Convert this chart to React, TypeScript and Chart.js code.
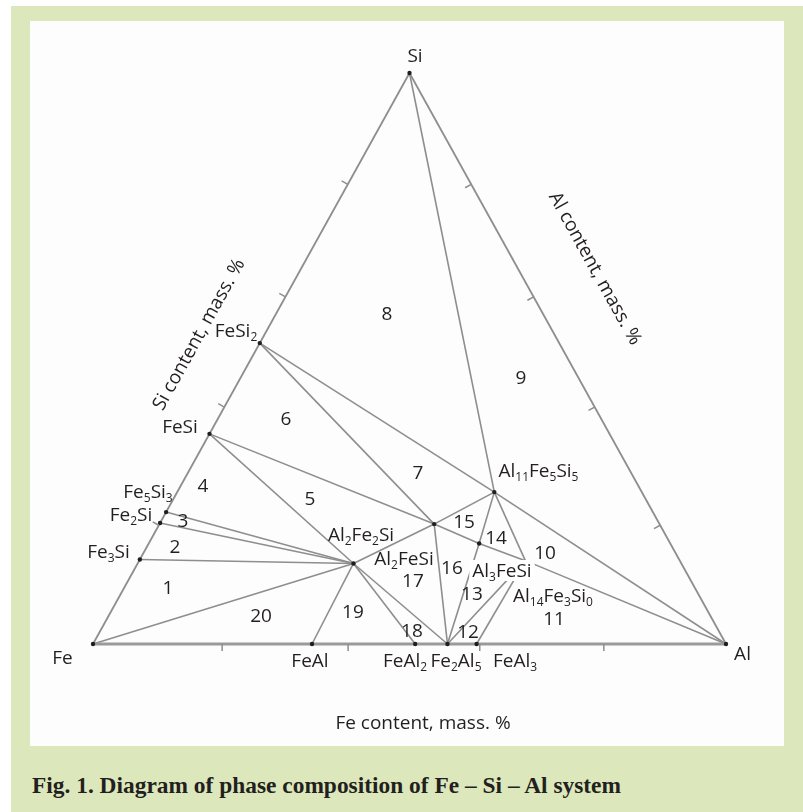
import React, { useEffect, useRef } from "react";
import { Chart, registerables } from "chart.js";
Chart.register(...registerables);

// ---------- Data: phase compositions in mass % (Fe = 100 - Si - Al) ----------
const phaseNames = [
  "Fe", "Al", "Si", "Fe3Si", "Fe2Si", "Fe5Si3", "FeSi", "FeSi2",
  "Al2Fe2Si", "Q", "D", "Al11Fe5Si5", "Al3FeSi", "FeAl", "FeAl2", "Fe2Al5", "FeAl3",
];
const phaseSi = [0, 0, 100, 14.8, 21.2, 23.1, 36.8, 52.7, 14.1, 21.0, 17.6, 26.6, 14.6, 0, 0, 0, 0];
const phaseAl = [0, 100, 0, 0, 0, 0, 0, 0, 34.1, 43.4, 52.2, 50.1, 61.0, 34.6, 50.9, 56.0, 60.6];

// Triangle edges and tie lines (by phase name)
const edgeLines = [["Fe", "Al"], ["Fe", "Si"], ["Si", "Al"]];
const tieLines = [
  ["Fe", "Al2Fe2Si"], ["Fe3Si", "Al2Fe2Si"], ["Fe2Si", "Al2Fe2Si"], ["Fe5Si3", "Al2Fe2Si"],
  ["FeSi", "Al2Fe2Si"], ["FeSi", "Q", "D", "Al3FeSi", "Al"], ["Al2Fe2Si", "Q", "Al11Fe5Si5"],
  ["FeSi2", "Q"], ["FeSi2", "Al11Fe5Si5"], ["Si", "Al11Fe5Si5"], ["Al11Fe5Si5", "Al"],
  ["Al11Fe5Si5", "D", "Fe2Al5"], ["Al11Fe5Si5", "Al3FeSi"], ["Q", "Fe2Al5"],
  ["Al3FeSi", "Fe2Al5"], ["Al3FeSi", "FeAl3"], ["Al2Fe2Si", "Fe2Al5"], ["Al2Fe2Si", "FeAl2"],
  ["Al2Fe2Si", "FeAl"],
];
const markedPhases = [
  "Fe", "Al", "Si", "Fe3Si", "Fe2Si", "Fe5Si3", "FeSi", "FeSi2", "Al2Fe2Si", "Q", "D",
  "Al11Fe5Si5", "FeAl", "FeAl2", "Fe2Al5", "FeAl3",
];

// Axis ticks (mass %)
const bottomTicks = [20.4, 40.3, 61.1, 80.7];
const sideTicks = [20.8, 41.5, 60.8, 80.5];

// Region numbers, anchored in triangle coordinates (x: Fe->Al, y: base->Si)
const regionLabels = ["1","2","3","4","5","6","7","8","9","10","11","12","13","14","15","16","17","18","19","20"];
const regionX = [0.1185,0.1295,0.1422,0.1738,0.3428,0.3049,0.5134,0.4645,0.6761,0.7141,0.7283,0.5924,0.5987,0.6367,0.5861,0.5671,0.5055,0.5039,0.4107,0.2654];
const regionY = [0.0998,0.1716,0.2172,0.2785,0.2557,0.3958,0.3012,0.5797,0.4676,0.1611,0.0455,0.0228,0.0893,0.1874,0.2154,0.1349,0.1121,0.0245,0.0578,0.0508];

// Phase labels ({..} = subscript)
const phaseLabelText = [
  "Fe{5}Si{3}", "Fe{2}Si", "Fe{3}Si", "FeSi", "FeSi{2}", "Al{2}Fe{2}Si", "Al{2}FeSi",
  "Al{11}Fe{5}Si{5}", "Al{3}FeSi", "Al{14}Fe{3}Si{0}", "FeAl", "FeAl{2}", "Fe{2}Al{5}", "FeAl{3}",
  "Fe", "Al", "Si",
];
const phaseLabelX = [0.0869,0.0600,0.0245,0.1374,0.2259,0.4234,0.4913,0.7038,0.6461,0.7267,0.3428,0.4929,0.5735,0.6667,-0.0482,1.0261,0.5087];
const phaseLabelY = [0.2680,0.2277,0.1629,0.3818,0.5499,0.1926,0.1506,0.3047,0.1296,0.0858,-0.0280,-0.0280,-0.0280,-0.0280,-0.0228,-0.0158,1.0315];
const boxedLabels = ["Al{3}FeSi"];

// Axis titles
const axisTitles = ["Si content, mass. %", "Al content, mass. %", "Fe content, mass. %"];
const axisTitleX = [0.1659, 0.7946, 0.5213];
const axisTitleY = [0.5429, 0.6585, -0.1366];

const caption = "Fig. 1. Diagram of phase composition of Fe \u2013 Si \u2013 Al system";

// ---------- helpers ----------
function toXY(si: number, al: number) {
  return { x: al / 100 + si / 200, y: si / 100 };
}
function phasePoint(name: string) {
  const i = phaseNames.indexOf(name);
  return toXY(phaseSi[i], phaseAl[i]);
}

const FONT = '"Open Sans", "DejaVu Sans", sans-serif';
const TEXT_COLOR = "#231f20";
const LINE_COLOR = "#8e8e8e";

function drawRich(ctx: CanvasRenderingContext2D, text: string, cx: number, cy: number, boxed: boolean) {
  const parts = text.split(/(\{[^}]*\})/).filter((p) => p.length > 0);
  const mainFont = `19px ${FONT}`;
  const subFont = `12px ${FONT}`;
  let total = 0;
  const widths: number[] = [];
  parts.forEach((p) => {
    const sub = p.startsWith("{");
    ctx.font = sub ? subFont : mainFont;
    const w = ctx.measureText(sub ? p.slice(1, -1) : p).width;
    widths.push(w);
    total += w;
  });
  let x = cx - total / 2;
  const base = cy + 6.8;
  if (boxed) {
    ctx.fillStyle = "#ffffff";
    ctx.fillRect(x - 3, cy - 10, total + 6, 21);
  }
  ctx.fillStyle = TEXT_COLOR;
  ctx.textAlign = "left";
  ctx.textBaseline = "alphabetic";
  parts.forEach((p, i) => {
    const sub = p.startsWith("{");
    ctx.font = sub ? subFont : mainFont;
    ctx.fillText(sub ? p.slice(1, -1) : p, x, sub ? base + 4 : base);
    x += widths[i];
  });
}

const annotationPlugin = {
  id: "ternaryAnnotations",
  afterDraw(chart: any) {
    const ctx: CanvasRenderingContext2D = chart.ctx;
    const sx = chart.scales.x;
    const sy = chart.scales.y;
    const px = (p: { x: number; y: number }) => ({ x: sx.getPixelForValue(p.x), y: sy.getPixelForValue(p.y) });
    const fe = px(phasePoint("Fe"));
    const al = px(phasePoint("Al"));
    const si = px(phasePoint("Si"));
    ctx.save();
    // ticks
    ctx.strokeStyle = LINE_COLOR;
    ctx.lineWidth = 1.5;
    const tick = (p: { x: number; y: number }, dx: number, dy: number) => {
      ctx.beginPath();
      ctx.moveTo(p.x, p.y);
      ctx.lineTo(p.x + dx * 7, p.y + dy * 7);
      ctx.stroke();
    };
    bottomTicks.forEach((v) => tick(px(toXY(0, v)), 0, 1));
    const lv = { x: si.x - fe.x, y: si.y - fe.y };
    const ll = Math.hypot(lv.x, lv.y);
    const rv = { x: al.x - si.x, y: al.y - si.y };
    const rl = Math.hypot(rv.x, rv.y);
    sideTicks.forEach((v) => {
      tick(px(toXY(v, 0)), lv.y / ll, -lv.x / ll);
      tick(px(toXY(v, 100 - v)), -rv.y / rl, rv.x / rl);
    });
    // region numbers
    regionLabels.forEach((t, i) => {
      const p = px({ x: regionX[i], y: regionY[i] });
      drawRich(ctx, t, p.x, p.y, false);
    });
    // phase labels
    phaseLabelText.forEach((t, i) => {
      const p = px({ x: phaseLabelX[i], y: phaseLabelY[i] });
      drawRich(ctx, t, p.x, p.y, boxedLabels.includes(t));
    });
    // axis titles
    const angles = [Math.atan2(lv.y, lv.x), Math.atan2(rv.y, rv.x), 0];
    axisTitles.forEach((t, i) => {
      const p = px({ x: axisTitleX[i], y: axisTitleY[i] });
      ctx.save();
      ctx.translate(p.x, p.y);
      ctx.rotate(angles[i]);
      ctx.font = `19px ${FONT}`;
      ctx.fillStyle = TEXT_COLOR;
      ctx.textAlign = "center";
      ctx.textBaseline = "alphabetic";
      ctx.fillText(t, 0, 6.8);
      ctx.restore();
    });
    ctx.restore();
  },
};

export default function App() {
  const canvasRef = useRef<HTMLCanvasElement>(null);
  const capRef = useRef<HTMLSpanElement>(null);

  useEffect(() => {
    const span = capRef.current;
    if (span) {
      span.style.transform = "none";
      const w = span.getBoundingClientRect().width;
      if (w > 0) span.style.transform = `scaleX(${589 / w})`;
    }
    if (!canvasRef.current) return;
    const datasets: any[] = [];
    datasets.push({
      data: markedPhases.map(phasePoint),
      showLine: false,
      pointRadius: 2.2,
      pointBackgroundColor: "#1e1e1e",
      pointBorderWidth: 0,
      order: 0,
    });
    edgeLines.forEach((names, i) => {
      datasets.push({
        data: names.map(phasePoint),
        showLine: true,
        borderColor: i === 0 ? "#9a9a9a" : LINE_COLOR,
        borderWidth: i === 0 ? 3 : 1.8,
        pointRadius: 0,
        order: 1,
      });
    });
    tieLines.forEach((names) => {
      datasets.push({
        data: names.map(phasePoint),
        showLine: true,
        borderColor: LINE_COLOR,
        borderWidth: 1.6,
        pointRadius: 0,
        order: 1,
      });
    });
    const chart = new Chart(canvasRef.current, {
      type: "scatter",
      data: { datasets },
      options: {
        responsive: false,
        animation: false,
        events: [],
        layout: { padding: 0, autoPadding: false } as any,
        plugins: { legend: { display: false }, tooltip: { enabled: false } },
        scales: {
          x: { type: "linear", min: -93 / 633, max: 710 / 633, display: false },
          y: { type: "linear", min: (644 - 812) / 571, max: 644 / 571, display: false },
        },
      },
      plugins: [annotationPlugin],
    });
    return () => chart.destroy();
  }, []);

  return (
    <div style={{ position: "absolute", left: 0, top: 0, width: 803, height: 812, background: "#ffffff", overflow: "hidden" }}>
      <div style={{ position: "absolute", left: 11, top: 6, width: 792, height: 806, background: "#dce8bb" }} />
      <div style={{ position: "absolute", left: 30, top: 21, width: 754, height: 725, background: "#fdfdfd" }} />
      <span
        ref={capRef}
        style={{
          position: "absolute",
          left: 32,
          top: 774,
          fontFamily: '"Liberation Serif", "Times New Roman", serif',
          fontWeight: "bold",
          fontSize: 23,
          lineHeight: "23px",
          color: "#231f20",
          whiteSpace: "nowrap",
          transformOrigin: "left center",
          display: "inline-block",
        }}
      >
        {caption}
      </span>
      <canvas ref={canvasRef} width={803} height={812} style={{ position: "absolute", left: 0, top: 0, width: 803, height: 812 }} />
    </div>
  );
}
